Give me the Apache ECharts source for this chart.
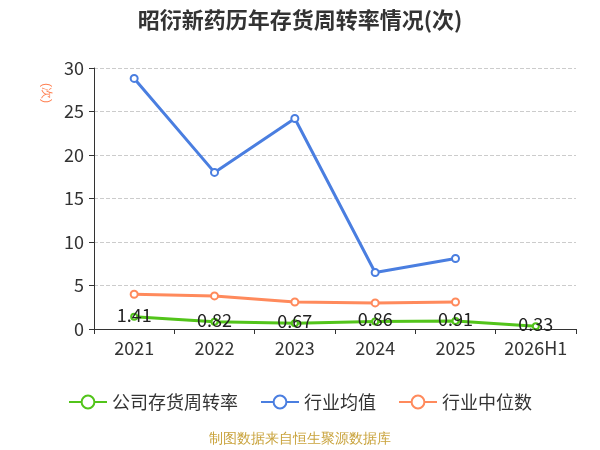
<!DOCTYPE html>
<html>
<head>
<meta charset="utf-8">
<script src="https://cdn.jsdelivr.net/npm/echarts@6/dist/echarts.min.js"></script>
<style>
  html, body { margin: 0; padding: 0; background: #fff; }
  #main { width: 600px; height: 450px; }
</style>
</head>
<body>
<div id="main"></div>
<script>
let years = ['2021', '2022', '2023', '2024', '2025', '2026H1']
  , companyVals = [1.41, 0.82, 0.67, 0.86, 0.91, 0.33]
  , avgVals = [28.8, 18.0, 24.2, 6.5, 8.1, null]
  , medianVals = [4.0, 3.8, 3.1, 3.0, 3.1, null]
  , yTicks = [0, 5, 10, 15, 20, 25, 30]

let chart = echarts.init(document.getElementById('main'))

chart.setOption({
  animation: false,
  textStyle: { fontFamily: '"Noto Sans CJK SC", "Noto Sans", sans-serif' },
  title: {
    text: '昭衍新药历年存货周转率情况(次)',
    left: 'center',
    top: 4,
    textStyle: { fontSize: 22, fontWeight: 'bold', color: '#333' }
  },
  graphic: [
    {
      // y轴单位
      type: 'text',
      x: 52,
      y: 83,
      rotation: -Math.PI / 2,
      style: { text: '(次)', fill: '#ff7f50', fontSize: 12 }
    },
    {
      type: 'text',
      left: 'center',
      top: 432,
      style: { text: '制图数据来自恒生聚源数据库', fill: '#c9a33c', fontSize: 13.5 }
    }
  ],
  legend: {
    bottom: 34,
    itemWidth: 38,
    itemHeight: 16,
    itemGap: 22,
    textStyle: { fontSize: 18, color: '#333' },
    data: ['公司存货周转率', '行业均值', '行业中位数']
  },
  grid: { left: 94, right: 24, top: 68, bottom: 121 },
  xAxis: {
    type: 'category',
    data: years,
    axisLine: { lineStyle: { color: '#333' } },
    axisTick: { show: true, lineStyle: { color: '#333' } },
    axisLabel: { fontSize: 18, color: '#333', margin: 10, interval: 0 }
  },
  yAxis: {
    type: 'value',
    min: yTicks[0],
    max: yTicks[yTicks.length - 1],
    interval: 5,
    axisLine: { show: true, lineStyle: { color: '#333' } },
    axisTick: { show: true, lineStyle: { color: '#333' } },
    axisLabel: { fontSize: 18, color: '#333', margin: 10 },
    splitLine: { lineStyle: { type: 'dashed', color: '#ccc' } }
  },
  series: [
    {
      name: '公司存货周转率',
      type: 'line',
      data: companyVals,
      color: '#52c41a',
      symbol: 'emptyCircle',
      symbolSize: 6,
      lineStyle: { width: 3 },
      label: {
        show: true,
        position: 'inside',
        fontSize: 18,
        color: '#222',
        offset: [0, -2]
      }
    },
    {
      name: '行业均值',
      type: 'line',
      data: avgVals,
      color: '#4a7ee0',
      symbol: 'emptyCircle',
      symbolSize: 7,
      lineStyle: { width: 3 }
    },
    {
      name: '行业中位数',
      type: 'line',
      data: medianVals,
      color: '#ff8a5c',
      symbol: 'emptyCircle',
      symbolSize: 7,
      lineStyle: { width: 3 }
    }
  ]
})
</script>
</body>
</html>
